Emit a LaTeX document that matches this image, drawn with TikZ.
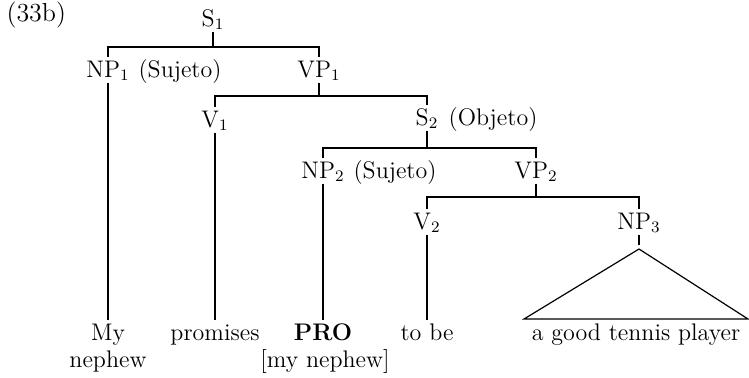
\documentclass[tikz,border=0pt]{standalone}
\begin{document}
\begin{tikzpicture}[x=0.5pt,y=-0.5pt,line width=0.6pt,
  every node/.style={font=\fontsize{12}{14}\selectfont},
  cat/.style={text height=8.5pt,text depth=1.5pt,inner sep=1pt,anchor=base},
  lbl/.style={inner sep=0pt,anchor=base west},
  leaf/.style={text height=8.5pt,text depth=2.5pt,inner sep=1pt,anchor=base}]
\useasboundingbox (0,0) rectangle (749,377);
% labels
\node[lbl,font=\fontsize{13}{15}\selectfont] (ex) at (6,21) {(33b)};
\node[cat] (S1) at (213,26) {S$_1$};
\node[cat] (NP1) at (108,77) {NP$_1$};
\node[lbl] (NP1r) at (138,77) {(Sujeto)};
\node[cat] (VP1) at (319,77) {VP$_1$};
\node[cat] (V1) at (215,127) {V$_1$};
\node[cat] (S2) at (427,125) {S$_2$};
\node[lbl] (S2r) at (448,125) {(Objeto)};
\node[cat] (NP2) at (323,178) {NP$_2$};
\node[lbl] (NP2r) at (353,178) {(Sujeto)};
\node[cat] (VP2) at (536,178) {VP$_2$};
\node[cat] (V2) at (427,229) {V$_2$};
\node[cat] (NP3) at (639,229) {NP$_3$};
% leaves
\node[leaf] (L1) at (108,340) {My};
\node[leaf] (L1b) at (108,367) {nephew};
\node[leaf] (L2) at (215,340) {promises};
\node[leaf] (L3) at (323,340) {\textbf{PRO}};
\node[leaf] (L3b) at (325,367) {[my nephew]};
\node[leaf] (L4) at (427,340) {to be};
\node[leaf] (L5) at (636,340) {a good tennis player};
% bar coordinates
\coordinate (b1) at (213,47);
\coordinate (b2) at (319,96);
\coordinate (b3) at (427,148);
\coordinate (b4) at (536,197);
\coordinate (apex) at (639,249);
\coordinate (tl) at (524,319);
\coordinate (tr) at (748,319);
% branches
\draw (S1.south) -- (b1);
\draw (NP1.north) |- (b1) -| (VP1.north);
\draw (VP1.south) -- (b2);
\draw (V1.north) |- (b2) -| (S2.north);
\draw (S2.south) -- (b3);
\draw (NP2.north) |- (b3) -| (VP2.north);
\draw (VP2.south) -- (b4);
\draw (V2.north) |- (b4) -| (NP3.north);
\draw[shorten >=2pt] (NP3.south) -- (apex);
\draw (apex) -- (tl) -- (tr) -- cycle;
\draw (NP1.south) -- (L1.north);
\draw (V1.south) -- (L2.north);
\draw (NP2.south) -- (L3.north);
\draw (V2.south) -- (L4.north);
\end{tikzpicture}
\end{document}
